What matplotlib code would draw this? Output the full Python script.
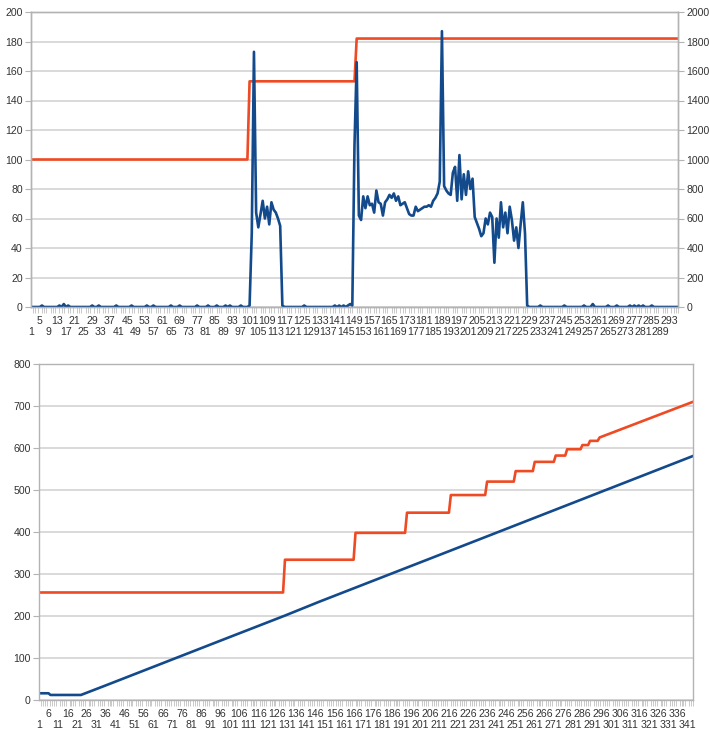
import matplotlib.pyplot as plt
import numpy as np

plt.rcParams['font.family'] = ['Liberation Sans', 'DejaVu Sans']

BLUE = '#134a8c'
RED = '#ee4a23'
GRID = '#d0d0d0'
AXIS = '#b3b3b3'
TXT = '#333333'

# ---- top chart data (category 1..297) ----
top_n = 297
top_blue = [
    0, 0, 0, 0, 0, 1, 0, 0, 0, 0,
    0, 0, 0, 1, 0, 2, 0, 1, 0, 0,
    0, 0, 0, 0, 0, 0, 0, 0, 1, 0,
    0, 1, 0, 0, 0, 0, 0, 0, 0, 1,
    0, 0, 0, 0, 0, 0, 1, 0, 0, 0,
    0, 0, 0, 1, 0, 0, 1, 0, 0, 0,
    0, 0, 0, 0, 1, 0, 0, 0, 1, 0,
    0, 0, 0, 0, 0, 0, 1, 0, 0, 0,
    0, 1, 0, 0, 0, 1, 0, 0, 0, 1,
    0, 1, 0, 0, 0, 0, 1, 0, 0, 0,
    1, 50, 173, 64, 54, 63, 72, 60, 68, 56,
    71, 66, 64, 60, 55, 1, 0, 0, 0, 0,
    0, 0, 0, 0, 0, 1, 0, 0, 0, 0,
    0, 0, 0, 0, 0, 0, 0, 0, 0, 1,
    0, 1, 0, 1, 0, 1, 2, 1, 110, 166,
    62, 59, 75, 67, 75, 69, 70, 64, 79, 71,
    70, 62, 71, 73, 76, 74, 77, 72, 75, 69,
    70, 71, 67, 63, 62, 62, 68, 65, 66, 67,
    68, 68, 69, 68, 72, 74, 77, 85, 187, 82,
    79, 77, 76, 91, 95, 72, 103, 73, 90, 76,
    92, 80, 87, 61, 57, 53, 48, 50, 60, 56,
    64, 61, 30, 60, 47, 71, 54, 64, 50, 68,
    59, 45, 54, 40, 56, 71, 50, 1, 0, 0,
    0, 0, 0, 1, 0, 0, 0, 0, 0, 0,
    0, 0, 0, 0, 1, 0, 0, 0, 0, 0,
    0, 0, 0, 1, 0, 0, 0, 2, 0, 0,
    0, 0, 0, 0, 1, 0, 0, 0, 1, 0,
    0, 0, 0, 0, 1, 0, 1, 0, 1, 0,
    1, 0, 0, 0, 1, 0, 0, 0, 0, 0,
    0, 0, 0, 0, 0, 0, 0,
]
# red series (right axis), vertices at the steps
top_red_x = [1, 100, 101, 149, 150, 297]
top_red_y = [1000, 1000, 1530, 1530, 1820, 1820]
top_labels = list(range(1, 294, 4))

# ---- bottom chart data (category 1..344) ----
bot_n = 344
bot_blue_x = [1, 6, 7, 23, 35, 61, 96, 130, 148, 204, 243, 344]
bot_blue_y = [16, 16, 12, 12, 33, 79, 141, 201, 234, 333, 402, 581]
bot_red_x = [1, 129, 130, 166, 167, 193, 194, 216, 217, 235, 236, 250, 251, 260,
             261, 271, 272, 277, 278, 285, 286, 289, 290, 294, 295, 344]
bot_red_y = [256, 256, 334, 334, 398, 398, 446, 446, 488, 488, 520, 520, 545, 545,
             567, 567, 582, 582, 597, 597, 607, 607, 617, 617, 625, 710]
bot_labels = list(range(1, 342, 5))

FS = 7.6


def style_x(ax, n, labels):
    ax.set_xlim(1, n)
    ax.set_xticks(labels)
    ax.set_xticklabels([('\n' if k % 2 == 0 else '') + str(p) for k, p in enumerate(labels)],
                       linespacing=1.1)
    ax.set_xticks(np.arange(1, n + 1), minor=True)
    ax.tick_params(axis='x', which='major', length=0, pad=6.5, labelsize=FS, labelcolor=TXT)
    ax.tick_params(axis='x', which='minor', length=4, width=0.5, color=AXIS)


def style_y(ax):
    ax.tick_params(axis='y', length=4, width=0.8, color=AXIS, labelsize=FS,
                   labelcolor=TXT, pad=2)
    for s in ax.spines.values():
        s.set_color(AXIS)
        s.set_linewidth(1)


fig = plt.figure(figsize=(7.09, 7.31), dpi=100)

# top chart
ax1 = fig.add_axes([31 / 709, 1 - 307 / 731, 647 / 709, 295 / 731])
ax1r = ax1.twinx()
x_top = np.arange(1, top_n + 1)
ax1r.plot(top_red_x, top_red_y, color=RED, lw=1.9)
ax1.plot(x_top, top_blue, color=BLUE, lw=1.9, solid_joinstyle='round')
ax1.set_ylim(0, 200)
ax1.set_yticks(range(0, 201, 20))
ax1r.set_ylim(0, 2000)
ax1r.set_yticks(range(0, 2001, 200))
ax1r.yaxis.grid(True, color=GRID, lw=1.1)
ax1r.set_axisbelow(True)
ax1.set_zorder(ax1r.get_zorder() + 1)
ax1.patch.set_visible(False)
style_x(ax1, top_n, top_labels)
style_y(ax1)
style_y(ax1r)

# bottom chart
ax2 = fig.add_axes([39 / 709, 31 / 731, 654 / 709, 336 / 731])
ax2.plot(bot_blue_x, bot_blue_y, color=BLUE, lw=1.9)
ax2.plot(bot_red_x, bot_red_y, color=RED, lw=1.9)
ax2.set_ylim(0, 800)
ax2.set_yticks(range(0, 801, 100))
ax2.yaxis.grid(True, color=GRID, lw=1.1)
ax2.set_axisbelow(True)
style_x(ax2, bot_n, bot_labels)
style_y(ax2)

fig.savefig('out.png', dpi=100)
